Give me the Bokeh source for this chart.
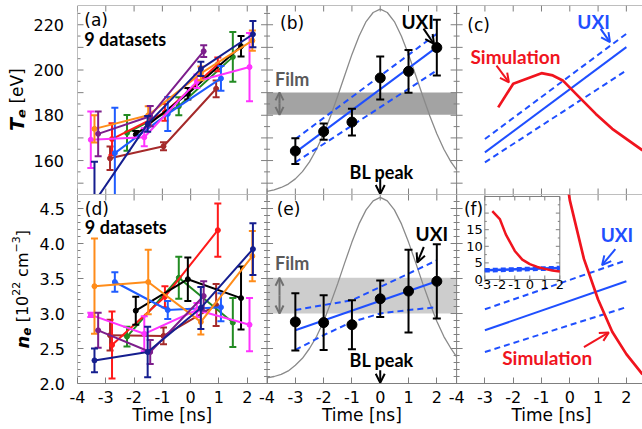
import math
from bokeh.plotting import figure
from bokeh.models import (Range1d, LinearAxis, FixedTicker, CustomJSTickFormatter,
                          Label, Arrow, OpenHead, BoxAnnotation, Span)
from bokeh.layouts import row, column
from bokeh.embed import file_html
from bokeh.resources import INLINE
from bokeh.core.properties import value

# ---------------- axes / ranges ----------------
TE_RANGE = (145.0, 228.5)
NE_RANGE = (2.0, 4.7)
T_RANGE = (-4.0, 2.7)            # each panel shows -4 .. 2.7 ns
PANEL_SHIFT = 6.7                # width of one panel in ns
X_MAIN = (-4.0, 15.97)           # panel (a)/(d) time across the whole row
X_B = (-10.7, 9.27)              # panel (b)/(e) time across the whole row
X_C = (-17.4, 2.57)              # panel (c)/(f) time across the whole row (cut at 2.57)
X_INSET = (-30.153, 7.513)       # inset time across the whole row
Y_INSET = (-31.325, 25.602)      # inset n_e across the whole bottom row

TIME_TICKS = [-4, -3, -2, -1, 0, 1, 2]
TE_TICKS = [150, 160, 170, 180, 190, 200, 210, 220]
TE_MINOR = [145, 155, 165, 175, 185, 195, 205, 215, 225]
NE_TICKS = [2.0, 2.5, 3.0, 3.5, 4.0, 4.5]
NE_MINOR = [2.1, 2.2, 2.3, 2.4, 2.6, 2.7, 2.8, 2.9, 3.1, 3.2, 3.3, 3.4, 3.6, 3.7,
            3.8, 3.9, 4.1, 4.2, 4.3, 4.4, 4.6]
INSET_T_TICKS = [-3, -2, -1, 0, 1, 2]
INSET_NE_TICKS = [0, 5, 10, 15, 20, 25]
INSET_NE_LABELS = ["0", "5", "10", "15"]
INSET_NE_MINOR = [2.5, 7.5, 12.5, 17.5, 22.5]

# ---------------- panels (a)/(d): 9 datasets ----------------
DS_COLORS = ["#a52a2a", "#228b22", "#ff1a1a", "#000000", "#1f5cff",
             "#ff33ff", "#ff8c1a", "#7d1e8c", "#151e8f"]
DS_T = [
    [-2.85, -0.96, 0.90],
    [-2.25, -0.42, 1.49],
    [-2.78, -0.91, 0.96],
    [-1.94, -0.10, 1.78],
    [-2.68, -0.81, 1.07],
    [-3.53, -1.64, 0.22, 2.08],
    [-3.40, -1.50, 0.36, 2.18],
    [-3.27, -1.43, 0.46],
    [-3.40, -1.52, 0.36, 2.20],
]
DS_TE = [
    [161.0, 166.3, 191.7],
    [172.2, 184.0, 205.8],
    [169.5, 181.3, 202.5],
    [171.5, 189.5, 210.5],
    [163.3, 180.6, 196.3],
    [169.2, 170.3, 195.0, 201.3],
    [174.0, 180.0, 198.5, 213.0],
    [171.8, 179.6, 208.3],
    [141.7, 176.2, 200.5, 215.8],
]
DS_TE_ERR = [
    [5.2, 1.8, 3.7],
    [7.9, 4.0, 11.0],
    [7.0, 3.7, 3.0],
    [1.5, 2.5, 4.5],
    [20.0, 7.5, 5.5],
    [12.5, 4.0, 3.0, 15.1],
    [6.0, 4.0, 3.0, 4.5],
    [9.9, 4.5, 2.6],
    [17.8, 3.5, 3.2, 5.8],
]
DS_NE = [
    [2.69, 2.68, 3.12],
    [2.67, 3.51, 2.87],
    [2.55, 3.24, 4.19],
    [3.04, 3.49, 3.22],
    [3.45, 3.05, 3.09],
    [2.98, 2.71, 3.05, 2.84],
    [3.39, 3.45, 2.88, 3.82],
    [2.76, 2.45, 3.25],
    [2.33, 2.45, 3.08, 3.92],
]
DS_NE_ERR = [
    [0.22, 0.12, 0.30],
    [0.14, 0.30, 0.35],
    [0.48, 0.15, 0.38],
    [0.20, 0.31, 0.45],
    [0.14, 0.13, 0.20],
    [0.03, 0.25, 0.10, 0.38],
    [0.68, 0.46, 0.18, 0.36],
    [0.25, 0.17, 0.21],
    [0.17, 0.36, 0.30, 0.37],
]

# ---------------- panels (b)/(e): UXI ----------------
UXI_T = [-3, -2, -1, 0, 1, 2]
UXI_TE = [164.2, 172.8, 177.0, 196.5, 199.4, 209.9]
UXI_TE_ERR = [5.7, 3.6, 5.9, 9.5, 9.4, 12.3]
UXI_NE = [2.88, 2.87, 2.84, 3.21, 3.32, 3.46]
UXI_NE_ERR = [0.41, 0.39, 0.35, 0.26, 0.59, 0.53]

FIT_T = [-3, 2]
FIT_TE = [163.6, 210.1]
FIT_TE_UP = [169.5, 216.0]
FIT_TE_LO = [159.2, 199.8]
FIT_NE = [2.76, 3.46]
BAND_T = [-3, -2, -1, 0, 1, 2]
E_NE_UP = [3.05, 3.12, 3.19, 3.38, 3.57, 3.76]
E_NE_LO = [2.48, 2.69, 2.88, 3.00, 3.05, 3.09]
F_NE_UP = [3.06, 3.76]
F_NE_LO = [2.45, 3.09]

FILM_TE = (180.2, 190.1)
FILM_NE = (3.00, 3.51)

BL_T = [-4, -3.75, -3.5, -3.25, -3, -2.75, -2.5, -2.25, -2, -1.75, -1.5, -1.25, -1,
        -0.75, -0.5, -0.25, 0, 0.25, 0.5, 0.75, 1, 1.25, 1.5, 1.75, 2, 2.25, 2.5, 2.7]
BL_TE = [146.4, 147.0, 148.1, 149.6, 151.9, 155.1, 159.4, 165.0, 171.8, 179.8, 188.6,
         197.8, 206.9, 214.9, 221.4, 225.4, 226.9, 225.4, 221.4, 214.9, 206.9, 197.8,
         188.6, 179.8, 171.8, 165.0, 159.4, 155.9]
BL_NE = [2.08, 2.10, 2.13, 2.18, 2.26, 2.36, 2.50, 2.67, 2.89, 3.15, 3.43, 3.73, 4.02,
         4.28, 4.48, 4.61, 4.66, 4.61, 4.48, 4.28, 4.02, 3.73, 3.43, 3.15, 2.89, 2.67,
         2.50, 2.38]

# ---------------- panels (c)/(f): simulation ----------------
SIM_TE_T = [-2.53, -2.0, -1.0, -0.6, -0.25, 0.28, 0.92, 1.5, 2.57]
SIM_TE = [183.5, 193.9, 198.6, 197.6, 195.4, 188.7, 180.6, 174.0, 164.5]
SIM_NE_T = [-2.5, -2.0, -1.6, -1.0, -0.5, 0.0, 0.5, 1.0, 1.5, 2.0, 2.57]
SIM_NE = [20.6, 18.2, 13.6, 8.6, 6.0, 4.62, 3.78, 3.2, 2.74, 2.42, 2.13]

FRAME = "#7f7f7f"
BLUE = "#1f4fff"
RED = "#f0141e"
GRAY_CURVE = "#8a8a8a"
TICK_FONT = "DejaVu Sans"
NOTE_FONT = "Lato"
PX_PER_NS = 565 / (X_MAIN[1] - X_MAIN[0])
PX_PER_EV = 189 / (TE_RANGE[1] - TE_RANGE[0])
PX_PER_NE = 189 / (NE_RANGE[1] - NE_RANGE[0])


def make_fig(width, height, xr, yr, mbl, mbt, mbb, mbr=0):
    p = figure(width=width, height=height, x_range=xr, y_range=yr,
               output_backend="svg", toolbar_location=None,
               x_axis_location=None, y_axis_location=None,
               min_border_left=mbl, min_border_right=mbr,
               min_border_top=mbt, min_border_bottom=mbb)
    p.outline_line_color = None
    p.grid.visible = False
    p.title.visible = False
    p.background_fill_color = "white"
    p.border_fill_color = "white"
    return p


def seg(p, x0, y0, x1, y1, **kw):
    p.segment(x0=x0, y0=y0, x1=x1, y1=y1, line_color=FRAME, line_width=1, **kw)


def edge_h(p, y_edge, xs, dy):
    """border line + inward ticks on a horizontal edge"""
    p.add_layout(Span(location=y_edge, dimension="width", line_color=FRAME, line_width=1))
    seg(p, xs, [y_edge] * len(xs), xs, [y_edge + dy] * len(xs))


def edge_v(p, x_edge, majors, minors, both=False):
    """border line + inward ticks on a vertical edge"""
    p.add_layout(Span(location=x_edge, dimension="height", line_color=FRAME, line_width=1))
    for ticks, ln in ((majors, 6), (minors, 3)):
        d = ln / PX_PER_NS
        lo = x_edge - d if both else x_edge
        seg(p, [lo] * len(ticks), ticks, [x_edge + d] * len(ticks), ticks)


FMT_TIME = ("let v = tick; if (v > 9.35) { v -= 13.4; } else if (v > 2.65) { v -= 6.7; }"
            " return String(Math.round(v));")
FMT_TE = "return (Math.round(tick) % 20 === 0) ? tick.toFixed(0) : ''"
FMT_NE = "return tick.toFixed(1)"


def label_axis(p, ticks, fmt):
    """tick labels only (the ticks themselves are drawn on the panel edge)"""
    ax = LinearAxis(ticker=FixedTicker(ticks=ticks), formatter=CustomJSTickFormatter(code=fmt))
    ax.axis_line_color = None
    ax.major_tick_line_color = None
    ax.minor_tick_line_color = None
    ax.major_label_text_font = TICK_FONT
    ax.major_label_text_font_size = "16px"
    ax.major_label_text_color = "black"
    ax.major_label_standoff = 2
    p.add_layout(ax, "right")


def note(p, rn, x, y, text, color="black", size="18px", align="left", font=NOTE_FONT,
         style="bold"):
    p.add_layout(Label(x=x, y=y, text=text, text_color=color, text_font=font,
                       text_font_size=size, text_font_style=style, x_range_name=rn,
                       text_align=align, text_baseline="middle"))


def arrow(p, rn, x0, y0, x1, y1, color="black", size=9):
    p.add_layout(Arrow(end=OpenHead(size=size, line_color=color, line_width=2),
                       x_start=x0, y_start=y0, x_end=x1, y_end=y1, x_range_name=rn,
                       line_color=color, line_width=2))


def vertical_title(p, x, y0, px_per_unit, pieces):
    pos = 0.0
    for text, size, style, dx, adv in pieces:
        p.text(x=[x], y=[y0 + pos / px_per_unit], text=[text], angle=math.pi / 2,
               text_font=value(TICK_FONT), text_font_size=value(f"{size}px"),
               text_font_style=value(style), text_color="black",
               text_align="left", text_baseline="alphabetic", x_offset=dx)
        pos += adv


def errorbars(p, rn, t, v, err, color, cap=7, lw=2):
    lo = [a - b for a, b in zip(v, err)]
    hi = [a + b for a, b in zip(v, err)]
    p.segment(x0=t, y0=lo, x1=t, y1=hi, line_color=color, line_width=lw, x_range_name=rn)
    p.scatter(x=t + t, y=lo + hi, marker="dash", size=cap, line_color=color,
              line_width=lw, x_range_name=rn)


# ---------------- figures ----------------
x_main = Range1d(*X_MAIN)
x_b = Range1d(*X_B)
x_c = Range1d(*X_C)

ta = make_fig(67, 194, Range1d(0, 34), Range1d(*TE_RANGE), 0, 5, 0, 33)
td = make_fig(67, 211, Range1d(0, 37), Range1d(*NE_RANGE), 0, 0, 22, 30)
P1 = make_fig(575, 194, x_main, Range1d(*TE_RANGE), 10, 5, 0)
P2 = make_fig(575, 211, x_main, Range1d(*NE_RANGE), 10, 0, 22)
P3 = make_fig(642, 24, x_main, Range1d(0, 24), 77, 0, 0)
for p in (P1, P2, P3):
    p.extra_x_ranges = {"b": x_b, "c": x_c}
P2.extra_x_ranges["inset"] = Range1d(*X_INSET)
P2.extra_y_ranges = {"inset": Range1d(*Y_INSET)}

X_TICKS_MAIN = [t + k * PANEL_SHIFT for k in range(3) for t in TIME_TICKS]

# borders and ticks, top row
edge_h(P1, TE_RANGE[1], X_TICKS_MAIN, -6 / PX_PER_EV)
edge_h(P1, TE_RANGE[0], X_TICKS_MAIN, 6 / PX_PER_EV)
edge_v(P1, X_MAIN[0], TE_TICKS, TE_MINOR)
# borders and ticks, bottom row
edge_h(P2, NE_RANGE[1], X_TICKS_MAIN, -6 / PX_PER_NE)
edge_v(P2, X_MAIN[0], NE_TICKS, NE_MINOR)
ax = LinearAxis(ticker=FixedTicker(ticks=X_TICKS_MAIN), formatter=CustomJSTickFormatter(code=FMT_TIME))
ax.axis_line_color = FRAME
ax.major_tick_line_color = FRAME
ax.major_tick_in = 6
ax.major_tick_out = 0
ax.minor_tick_line_color = None
ax.major_label_text_font = TICK_FONT
ax.major_label_text_font_size = "16px"
ax.major_label_text_color = "black"
ax.major_label_standoff = 7
P2.add_layout(ax, "below")
for k in (1, 2):
    bx = T_RANGE[1] + (k - 1) * PANEL_SHIFT
    edge_v(P1, bx, TE_TICKS, TE_MINOR, both=True)
    edge_v(P2, bx, NE_TICKS, NE_MINOR, both=True)

for rn in ("default", "b", "c"):
    P3.text(x=[-0.65], y=[15], text=["Time [ns]"], x_range_name=rn,
            text_font=value(TICK_FONT), text_font_size=value("17px"), text_color="black",
            text_align="center", text_baseline="middle")

# ---------------- y tick labels and titles ----------------
label_axis(ta, TE_TICKS, FMT_TE)
label_axis(td, NE_TICKS, FMT_NE)
vertical_title(ta, 23, 173.0, PX_PER_EV,
               [("T", 19, "bold italic", 0, 13.0), ("e", 13, "bold italic", 4, 14.5),
                ("[eV]", 17, "normal", 0, 36.0)])
vertical_title(td, 26.5, 2.5, PX_PER_NE,
               [("n", 18, "bold italic", 0, 12.8), ("e", 12, "bold italic", 4, 13.4),
                ("[10", 16, "normal", 0, 26.6), ("22", 11, "normal", -7, 18.8),
                ("cm", 16, "normal", 0, 24.4), ("\u22123", 11, "normal", -7, 16.2),
                ("]", 16, "normal", 0, 6.2)])

# ---------------- (a) and (d) ----------------
for i, col in enumerate(DS_COLORS):
    P1.line(DS_T[i], DS_TE[i], line_color=col, line_width=2)
    errorbars(P1, "default", DS_T[i], DS_TE[i], DS_TE_ERR[i], col)
    P1.scatter(DS_T[i], DS_TE[i], marker="circle", size=5, fill_color=col, line_color=col)
    P2.line(DS_T[i], DS_NE[i], line_color=col, line_width=2)
    errorbars(P2, "default", DS_T[i], DS_NE[i], DS_NE_ERR[i], col)
    P2.scatter(DS_T[i], DS_NE[i], marker="circle", size=5, fill_color=col, line_color=col)

note(P1, "default", -3.76, 221.9, "(a)", size="17px", font=TICK_FONT, style="normal")
note(P1, "default", -3.76, 213.7, "9 datasets")
note(P2, "default", -3.74, 4.50, "(d)", size="17px", font=TICK_FONT, style="normal")
note(P2, "default", -3.74, 4.23, "9 datasets")

# ---------------- (b) ----------------
P1.add_layout(BoxAnnotation(left=T_RANGE[0], right=T_RANGE[1], bottom=FILM_TE[0],
                            top=FILM_TE[1], x_range_name="b", fill_color="#a3a3a3",
                            fill_alpha=1.0, line_color=None, level="underlay"))
P1.line(BL_T, BL_TE, line_color=GRAY_CURVE, line_width=1.3, x_range_name="b")
P1.line(FIT_T, FIT_TE_UP, line_color=BLUE, line_width=2, line_dash="6 4", x_range_name="b")
P1.line(FIT_T, FIT_TE_LO, line_color=BLUE, line_width=2, line_dash="6 4", x_range_name="b")
P1.line(FIT_T, FIT_TE, line_color=BLUE, line_width=2, x_range_name="b")
errorbars(P1, "b", UXI_T, UXI_TE, UXI_TE_ERR, "black", cap=8)
P1.scatter(UXI_T, UXI_TE, marker="circle", size=10, fill_color="black",
           line_color="black", x_range_name="b")
note(P1, "b", -3.54, 220.8, "(b)", size="17px", font=TICK_FONT, style="normal")
note(P1, "b", -3.72, 196.2, "Film", color="#5a5a5a")
arrow(P1, "b", -3.56, 185.1, -3.56, FILM_TE[1], color="#707070", size=8)
arrow(P1, "b", -3.56, 185.1, -3.56, FILM_TE[0], color="#707070", size=8)
note(P1, "b", 0.05, 154.8, "BL peak", align="center")
arrow(P1, "b", 0.0, 152.0, 0.0, 145.2)
note(P1, "b", 0.75, 221.4, "UXI", size="19px")
arrow(P1, "b", 1.53, 218.3, 1.90, 211.5)

# ---------------- (c) ----------------
P1.line(FIT_T, FIT_TE_UP, line_color=BLUE, line_width=2, line_dash="6 4", x_range_name="c")
P1.line(FIT_T, FIT_TE_LO, line_color=BLUE, line_width=2, line_dash="6 4", x_range_name="c")
P1.line(FIT_T, FIT_TE, line_color=BLUE, line_width=2, x_range_name="c")
P1.line(SIM_TE_T, SIM_TE, line_color=RED, line_width=2.7, x_range_name="c")
note(P1, "c", -3.62, 219.8, "(c)", size="17px", font=TICK_FONT, style="normal")
note(P1, "c", 0.265, 221.4, "UXI", color=BLUE, size="19px")
arrow(P1, "c", 1.09, 218.2, 1.42, 212.3, color=BLUE)
note(P1, "c", -3.51, 206.1, "Simulation", color=RED, size="19px")
arrow(P1, "c", -2.59, 201.9, -2.15, 194.5, color=RED)

# ---------------- (e) ----------------
P2.add_layout(BoxAnnotation(left=T_RANGE[0], right=T_RANGE[1], bottom=FILM_NE[0],
                            top=FILM_NE[1], x_range_name="b", fill_color="#cdcdcd",
                            fill_alpha=1.0, line_color=None, level="underlay"))
P2.line(BL_T, BL_NE, line_color=GRAY_CURVE, line_width=1.3, x_range_name="b")
P2.line(BAND_T, E_NE_UP, line_color=BLUE, line_width=2, line_dash="6 4", x_range_name="b")
P2.line(BAND_T, E_NE_LO, line_color=BLUE, line_width=2, line_dash="6 4", x_range_name="b")
P2.line(FIT_T, FIT_NE, line_color=BLUE, line_width=2, x_range_name="b")
errorbars(P2, "b", UXI_T, UXI_NE, UXI_NE_ERR, "black", cap=8)
P2.scatter(UXI_T, UXI_NE, marker="circle", size=10, fill_color="black",
           line_color="black", x_range_name="b")
note(P2, "b", -3.66, 4.49, "(e)", size="17px", font=TICK_FONT, style="normal")
note(P2, "b", -3.72, 3.72, "Film", color="#5a5a5a")
arrow(P2, "b", -3.56, 3.255, -3.56, FILM_NE[1], color="#707070", size=8)
arrow(P2, "b", -3.56, 3.255, -3.56, FILM_NE[0], color="#707070", size=8)
note(P2, "b", 0.05, 2.33, "BL peak", align="center")
arrow(P2, "b", 0.0, 2.19, 0.0, 2.01)
note(P2, "b", 1.25, 4.15, "UXI", size="19px")
arrow(P2, "b", 1.54, 3.95, 1.31, 3.73)

# ---------------- (f) ----------------
P2.line(FIT_T, F_NE_UP, line_color=BLUE, line_width=2, line_dash="6 4", x_range_name="c")
P2.line(FIT_T, F_NE_LO, line_color=BLUE, line_width=2, line_dash="6 4", x_range_name="c")
P2.line(FIT_T, FIT_NE, line_color=BLUE, line_width=2, x_range_name="c")
P2.line(SIM_NE_T, SIM_NE, line_color=RED, line_width=2.7, x_range_name="c")
note(P2, "c", -3.74, 4.50, "(f)", size="17px", font=TICK_FONT, style="normal")
note(P2, "c", 1.09, 4.13, "UXI", color=BLUE, size="19px")
arrow(P2, "c", 1.61, 3.92, 1.14, 3.69, color=BLUE)
note(P2, "c", -2.39, 2.37, "Simulation", color=RED, size="19px")
arrow(P2, "c", 0.50, 2.52, 1.38, 2.73, color=RED)

# ---------------- inset in (f) ----------------
IX, IY = "inset", "inset"
ix0, ix1 = INSET_T_TICKS[0], INSET_T_TICKS[-1]
iy0, iy1 = INSET_NE_TICKS[0], INSET_NE_TICKS[-1]
P2.quad(left=[ix0], right=[ix1], bottom=[iy0], top=[iy1], fill_color="white",
        line_color=FRAME, line_width=1, x_range_name=IX, y_range_name=IY)
sx = 15.0                       # inset px per ns
sy = 83.0 / (iy1 - iy0)         # inset px per unit
for ticks, ln in ((INSET_NE_TICKS, 4), (INSET_NE_MINOR, 2)):
    n = len(ticks)
    seg(P2, [ix0] * n, ticks, [ix0 + ln / sx] * n, ticks, x_range_name=IX, y_range_name=IY)
    seg(P2, [ix1 - ln / sx] * n, ticks, [ix1] * n, ticks, x_range_name=IX, y_range_name=IY)
n = len(INSET_T_TICKS)
seg(P2, INSET_T_TICKS, [iy0] * n, INSET_T_TICKS, [iy0 + 4 / sy] * n,
    x_range_name=IX, y_range_name=IY)
seg(P2, INSET_T_TICKS, [iy1 - 4 / sy] * n, INSET_T_TICKS, [iy1] * n,
    x_range_name=IX, y_range_name=IY)
P2.text(x=[ix0] * len(INSET_NE_LABELS), y=INSET_NE_TICKS[:len(INSET_NE_LABELS)],
        text=INSET_NE_LABELS, x_offset=-2, text_align="right", text_baseline="middle",
        text_font=value(TICK_FONT), text_font_size=value("13px"), text_color="black",
        x_range_name=IX, y_range_name=IY)
P2.text(x=INSET_T_TICKS, y=[iy0] * n, text=[str(t) for t in INSET_T_TICKS], y_offset=1,
        text_align="center", text_baseline="top",
        text_font=value(TICK_FONT), text_font_size=value("13px"), text_color="black",
        x_range_name=IX, y_range_name=IY)
P2.line(FIT_T, F_NE_UP, line_color=BLUE, line_width=2.5, line_dash="5 3",
        x_range_name=IX, y_range_name=IY)
P2.line(FIT_T, F_NE_LO, line_color=BLUE, line_width=2.5, line_dash="5 3",
        x_range_name=IX, y_range_name=IY)
P2.line(FIT_T, FIT_NE, line_color=BLUE, line_width=2.5, x_range_name=IX, y_range_name=IY)
P2.line(SIM_NE_T[:-1], SIM_NE[:-1], line_color=RED, line_width=2.5,
        x_range_name=IX, y_range_name=IY)

layout = column(row(ta, P1), row(td, P2), P3)
open("out.html", "w").write(file_html(layout, INLINE))
